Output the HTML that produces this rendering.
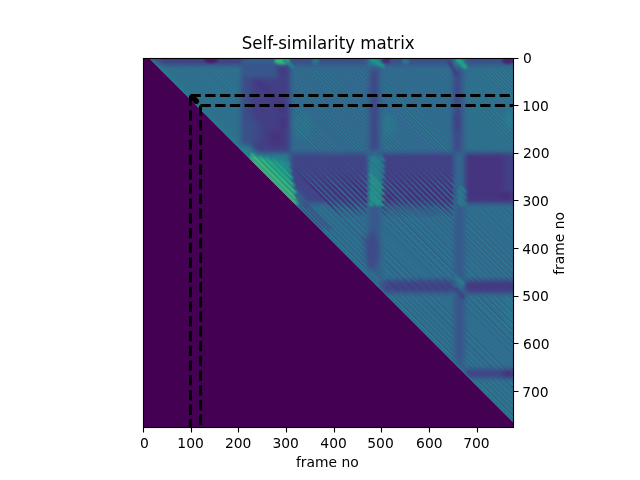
<!DOCTYPE html>
<html lang="en"><head><meta charset="utf-8"><title>Self-similarity matrix</title>
<style>
html,body{margin:0;padding:0;background:#fff;overflow:hidden}
svg{display:block}
text{font-family:"DejaVu Sans","Liberation Sans",sans-serif;fill:#000}
</style></head><body>
<svg width="640" height="480" viewBox="0 0 640 480">
<defs>
<clipPath id="ax"><rect x="143" y="58" width="371" height="370"/></clipPath>
<linearGradient id="sg" gradientUnits="userSpaceOnUse" x1="0" y1="156" x2="0" y2="218"><stop offset="0" stop-color="#fff" stop-opacity="0"/><stop offset=".25" stop-color="#fff" stop-opacity=".15"/><stop offset=".5" stop-color="#fff" stop-opacity="1"/><stop offset=".8" stop-color="#fff" stop-opacity="1"/><stop offset="1" stop-color="#fff" stop-opacity="0"/></linearGradient>
<mask id="sf" maskUnits="userSpaceOnUse" x="280" y="150" width="190" height="75"><rect x="280" y="150" width="190" height="75" fill="url(#sg)"/></mask>
<clipPath id="bc"><rect x="189" y="94" width="20" height="20"/></clipPath>
<clipPath id="tri"><polygon points="148.84,58 514,58 514,423.16"/></clipPath>
<filter id="b" x="100" y="20" width="460" height="450" filterUnits="userSpaceOnUse" color-interpolation-filters="sRGB"><feGaussianBlur stdDeviation="2.4"/></filter>
<filter id="b2" x="100" y="20" width="460" height="450" filterUnits="userSpaceOnUse" color-interpolation-filters="sRGB"><feGaussianBlur stdDeviation="1.2"/></filter>
<filter id="b1" x="100" y="20" width="460" height="450" filterUnits="userSpaceOnUse" color-interpolation-filters="sRGB"><feGaussianBlur stdDeviation="0.6"/></filter>
</defs>
<rect width="640" height="480" fill="#fff"/>
<rect x="143" y="58" width="371" height="370" fill="#440154"/>
<g clip-path="url(#tri)">
<rect x="143" y="58" width="371" height="370" fill="#2e6b8e"/>
<g filter="url(#b)">
<rect x="120" y="40" width="122.3" height="25.3" fill="#424086"/>
<rect x="242" y="40" width="48.3" height="25.3" fill="#355f8d"/>
<rect x="290" y="40" width="78.3" height="25.3" fill="#3c4f8a"/>
<rect x="368" y="40" width="13.3" height="25.3" fill="#25848e"/>
<rect x="381" y="40" width="73.3" height="25.3" fill="#3c4f8a"/>
<rect x="454" y="40" width="11.3" height="25.3" fill="#25848e"/>
<rect x="465" y="40" width="75.3" height="25.3" fill="#3c4f8a"/>
<rect x="120" y="65" width="122.3" height="88.3" fill="#2e6f8e"/>
<rect x="242" y="65" width="48.3" height="88.3" fill="#423f85"/>
<rect x="290" y="65" width="78.3" height="88.3" fill="#31688e"/>
<rect x="368" y="65" width="13.3" height="88.3" fill="#355f8d"/>
<rect x="381" y="65" width="73.3" height="88.3" fill="#306a8e"/>
<rect x="454" y="65" width="11.3" height="88.3" fill="#355f8d"/>
<rect x="465" y="65" width="75.3" height="88.3" fill="#2e6f8e"/>
<rect x="120" y="153" width="122.3" height="50.3" fill="#25848e"/>
<rect x="242" y="153" width="48.3" height="50.3" fill="#287d8e"/>
<rect x="290" y="153" width="78.3" height="50.3" fill="#404588"/>
<rect x="368" y="153" width="13.3" height="50.3" fill="#2f6c8e"/>
<rect x="381" y="153" width="73.3" height="50.3" fill="#424186"/>
<rect x="454" y="153" width="11.3" height="50.3" fill="#31678e"/>
<rect x="465" y="153" width="75.3" height="50.3" fill="#463480"/>
<rect x="242" y="203" width="48.3" height="77.3" fill="#2e6f8e"/>
<rect x="290" y="203" width="78.3" height="77.3" fill="#2f6b8e"/>
<rect x="368" y="203" width="13.3" height="77.3" fill="#355f8d"/>
<rect x="381" y="203" width="73.3" height="77.3" fill="#2f6b8e"/>
<rect x="454" y="203" width="11.3" height="77.3" fill="#355f8d"/>
<rect x="465" y="203" width="75.3" height="77.3" fill="#2f6c8e"/>
<rect x="290" y="280" width="78.3" height="13.3" fill="#2e6f8e"/>
<rect x="368" y="280" width="13.3" height="13.3" fill="#31678e"/>
<rect x="381" y="280" width="73.3" height="13.3" fill="#3c4f8a"/>
<rect x="454" y="280" width="11.3" height="13.3" fill="#306a8e"/>
<rect x="465" y="280" width="75.3" height="13.3" fill="#443a83"/>
<rect x="368" y="293" width="13.3" height="76.3" fill="#2d718e"/>
<rect x="381" y="293" width="73.3" height="76.3" fill="#2f6c8e"/>
<rect x="454" y="293" width="11.3" height="76.3" fill="#365d8d"/>
<rect x="465" y="293" width="75.3" height="76.3" fill="#2f6c8e"/>
<rect x="381" y="369" width="73.3" height="9.3" fill="#2d718e"/>
<rect x="454" y="369" width="11.3" height="9.3" fill="#2f6c8e"/>
<rect x="465" y="369" width="75.3" height="9.3" fill="#414487"/>
<rect x="454" y="378" width="11.3" height="72.3" fill="#2b758e"/>
<rect x="465" y="378" width="75.3" height="72.3" fill="#2e6f8e"/>
<path d="M150 58L245 153" stroke="#297a8e" stroke-width="9" stroke-linecap="round" fill="none" stroke-opacity="0.60"/>
<rect x="370.5" y="70" width="7.5" height="80" fill="#414487" fill-opacity="0.90"/>
<rect x="453" y="70" width="8" height="82" fill="#3e4989"/>
<ellipse cx="457" cy="122" rx="3.5" ry="9" fill="#453781" fill-opacity="0.70"/>
<ellipse cx="372" cy="250" rx="7" ry="19" fill="#404688" fill-opacity="0.85"/>
<path d="M362 238L376 252" stroke="#3e4989" stroke-width="4" stroke-linecap="round" fill="none" stroke-opacity="0.50"/>
<rect x="371" y="204" width="7" height="28" fill="#3b528b" fill-opacity="0.80"/>
<rect x="455" y="204" width="8" height="76" fill="#38588c" fill-opacity="0.80"/>
<rect x="455" y="295" width="9" height="63" fill="#3b528b" fill-opacity="0.80"/>
<rect x="243" y="66" width="35" height="12" fill="#355f8d" fill-opacity="0.80"/>
<ellipse cx="252" cy="132" rx="8" ry="14" fill="#3a548c" fill-opacity="0.60"/>
<rect x="240" y="80" width="12" height="70" fill="#38588c" fill-opacity="0.50"/>
<path d="M258 82L284 110" stroke="#463480" stroke-width="8" stroke-linecap="round" fill="none" stroke-opacity="0.70"/>
<ellipse cx="283" cy="123" rx="4" ry="6" fill="#472e7c" fill-opacity="0.70"/>
<ellipse cx="276" cy="138" rx="8" ry="9" fill="#472e7c" fill-opacity="0.60"/>
<ellipse cx="303" cy="126" rx="10" ry="14" fill="#2a788e" fill-opacity="0.50"/>
<ellipse cx="389" cy="126" rx="7" ry="12" fill="#287d8e" fill-opacity="0.50"/>
<ellipse cx="509" cy="120" rx="4" ry="9" fill="#25848e" fill-opacity="0.70"/>
<rect x="505" y="296" width="9" height="34" fill="#297a8e" fill-opacity="0.60"/>
<rect x="504" y="156" width="12" height="44" fill="#404688" fill-opacity="0.70"/>
<ellipse cx="507" cy="196" rx="5" ry="4" fill="#472a7a"/>
<ellipse cx="450" cy="196" rx="3" ry="8" fill="#443a83"/>
<ellipse cx="389" cy="198" rx="6" ry="4" fill="#463480"/>
<rect x="384" y="282" width="68" height="10" fill="#414487" fill-opacity="0.60"/>
<ellipse cx="508" cy="374" rx="5" ry="3.5" fill="#472a7a"/>
<ellipse cx="282" cy="71" rx="5" ry="3" fill="#463480"/>
<path d="M246 153L297 204" stroke="#25848e" stroke-width="16" stroke-linecap="round" fill="none" stroke-opacity="0.90"/>
</g>
<g filter="url(#b2)">
<path d="M388 280L398 290" stroke="#463480" stroke-width="2.2" stroke-linecap="round" fill="none" stroke-opacity="0.50"/>
<path d="M396 280L406 290" stroke="#463480" stroke-width="2.2" stroke-linecap="round" fill="none" stroke-opacity="0.50"/>
<path d="M404 280L414 290" stroke="#463480" stroke-width="2.2" stroke-linecap="round" fill="none" stroke-opacity="0.50"/>
<path d="M412 280L422 290" stroke="#463480" stroke-width="2.2" stroke-linecap="round" fill="none" stroke-opacity="0.50"/>
<path d="M420 280L430 290" stroke="#463480" stroke-width="2.2" stroke-linecap="round" fill="none" stroke-opacity="0.50"/>
<path d="M428 280L438 290" stroke="#463480" stroke-width="2.2" stroke-linecap="round" fill="none" stroke-opacity="0.50"/>
<path d="M436 280L446 290" stroke="#463480" stroke-width="2.2" stroke-linecap="round" fill="none" stroke-opacity="0.50"/>
<path d="M444 280L454 290" stroke="#463480" stroke-width="2.2" stroke-linecap="round" fill="none" stroke-opacity="0.50"/>
<path d="M456 277L463 284" stroke="#26828e" stroke-width="4" stroke-linecap="round" fill="none" stroke-opacity="0.80"/>
<path d="M456 289L463 297" stroke="#443a83" stroke-width="4" stroke-linecap="round" fill="none" stroke-opacity="0.80"/>
<path d="M370 272L378 280" stroke="#2a788e" stroke-width="4" stroke-linecap="round" fill="none" stroke-opacity="0.60"/>
<ellipse cx="211" cy="60" rx="7" ry="3" fill="#481a6c"/>
<ellipse cx="282" cy="61" rx="8" ry="3.5" fill="#32b67a"/>
<path d="M284 60L293 67" stroke="#25848e" stroke-width="3" stroke-linecap="round" fill="none"/>
<ellipse cx="315.5" cy="61" rx="3.5" ry="4" fill="#2c738e"/>
<ellipse cx="386" cy="60.5" rx="4" ry="3" fill="#472a7a"/>
<ellipse cx="405.5" cy="61" rx="3.5" ry="4" fill="#2c738e"/>
<ellipse cx="508" cy="60.5" rx="6" ry="3.5" fill="#482475"/>
<path d="M372 59.5L383 66" stroke="#1f958b" stroke-width="4" stroke-linecap="round" fill="none"/>
<path d="M458 59.5L465 67" stroke="#20a386" stroke-width="4.5" stroke-linecap="round" fill="none"/>
<path d="M449 62L456 74" stroke="#443a83" stroke-width="3" stroke-linecap="round" fill="none"/>
<path d="M249.6 158l47 47" stroke="#4ec36b" stroke-width="2.6" fill="none"/>
<path d="M251.2 154l46.3 46.3" stroke="#32b67a" stroke-width="2.6" fill="none"/>
<path d="M259.2 156.4l36.8 36.8" stroke="#2cb17e" stroke-width="2.6" fill="none"/>
<path d="M266 157.6l28.5 28.5" stroke="#22a884" stroke-width="2.6" fill="none"/>
<path d="M272.8 158.8l20.2 20.2" stroke="#1f9f88" stroke-width="2.6" fill="none"/>
<path d="M279.6 160l11.9 11.9" stroke="#1f958b" stroke-width="2.6" fill="none"/>
<path d="M286.4 161.2l3.6 3.6" stroke="#23898e" stroke-width="2.6" fill="none"/>
<path d="M300 206L322 228" stroke="#3e4989" stroke-width="4" stroke-linecap="round" fill="none" stroke-opacity="0.70"/>
<path d="M306 205L330 229" stroke="#414487" stroke-width="3" stroke-linecap="round" fill="none" stroke-opacity="0.70"/>
<path d="M296 196L306 206" stroke="#414487" stroke-width="4" stroke-linecap="round" fill="none" stroke-opacity="0.60"/>
<path d="M368.8 201.8l4.2 4.2" stroke="#20a386" stroke-width="2.6" fill="none" stroke-opacity="0.95"/>
<path d="M368.8 195.8l10.2 10.2" stroke="#20a386" stroke-width="2.6" fill="none" stroke-opacity="0.95"/>
<path d="M368.8 190.9l15.1 15.1" stroke="#20a386" stroke-width="2.6" fill="none" stroke-opacity="0.95"/>
<path d="M368.8 185.1l16 16" stroke="#20a386" stroke-width="2.6" fill="none" stroke-opacity="0.95"/>
<path d="M368.8 179l16 16" stroke="#20a386" stroke-width="2.6" fill="none" stroke-opacity="0.95"/>
<path d="M368.8 173.3l16 16" stroke="#20a386" stroke-width="2.6" fill="none" stroke-opacity="0.95"/>
<path d="M368.8 167.6l16 16" stroke="#24868e" stroke-width="2.6" fill="none" stroke-opacity="0.95"/>
<path d="M368.8 162.5l16 16" stroke="#24868e" stroke-width="2.6" fill="none" stroke-opacity="0.95"/>
<path d="M368.8 156.6l16 16" stroke="#24868e" stroke-width="2.6" fill="none" stroke-opacity="0.95"/>
<path d="M373.3 156l11.5 11.5" stroke="#24868e" stroke-width="2.6" fill="none" stroke-opacity="0.95"/>
<path d="M379.4 156l5.4 5.4" stroke="#24868e" stroke-width="2.6" fill="none" stroke-opacity="0.95"/>
<path d="M457.8 200.9l5.1 5.1" stroke="#1f958b" stroke-width="2" fill="none" stroke-opacity="0.80"/>
<path d="M457.8 195.6l9 9" stroke="#1f958b" stroke-width="2" fill="none" stroke-opacity="0.80"/>
<path d="M457.8 189.9l9 9" stroke="#1f958b" stroke-width="2" fill="none" stroke-opacity="0.80"/>
<path d="M460 186l6.8 6.8" stroke="#1f958b" stroke-width="2" fill="none" stroke-opacity="0.80"/>
</g>
<g filter="url(#b1)">
<path d="M252.6 161l42 42" stroke="#69cd5b" stroke-width="1.2" fill="none" stroke-opacity="0.90"/>
<path d="M254.2 157l41.3 41.3" stroke="#48c16e" stroke-width="1.2" fill="none" stroke-opacity="0.90"/>
<path d="M262.2 159.4l31.8 31.8" stroke="#3fbc73" stroke-width="1.2" fill="none" stroke-opacity="0.90"/>
<path d="M269 160.6l23.5 23.5" stroke="#2fb47c" stroke-width="1.2" fill="none" stroke-opacity="0.90"/>
<path d="M275.8 161.8l15.2 15.2" stroke="#25ab82" stroke-width="1.2" fill="none" stroke-opacity="0.90"/>
</g>
<g mask="url(#sf)"><g filter="url(#b1)">
<path d="M294 168.5l49.5 49.5" stroke="#482878" stroke-width="2" fill="none" stroke-opacity="0.79"/>
<path d="M296.8 168.5l49.5 49.5" stroke="#2c738e" stroke-width="1.5" fill="none" stroke-opacity="0.73"/>
<path d="M294 163.4l54.6 54.6" stroke="#482878" stroke-width="2" fill="none" stroke-opacity="0.57"/>
<path d="M296.8 163.4l54.6 54.6" stroke="#2c738e" stroke-width="1.5" fill="none" stroke-opacity="0.68"/>
<path d="M294 157.7l60.3 60.3" stroke="#482878" stroke-width="2" fill="none" stroke-opacity="0.56"/>
<path d="M296.8 157.7l60.3 60.3" stroke="#2c738e" stroke-width="1.5" fill="none" stroke-opacity="0.57"/>
<path d="M298.5 156l62 62" stroke="#482878" stroke-width="2" fill="none" stroke-opacity="0.75"/>
<path d="M301.3 156l62 62" stroke="#2c738e" stroke-width="1.5" fill="none" stroke-opacity="0.63"/>
<path d="M303.5 156l62 62" stroke="#482878" stroke-width="2" fill="none" stroke-opacity="0.84"/>
<path d="M306.3 156l62 62" stroke="#2c738e" stroke-width="1.5" fill="none" stroke-opacity="0.86"/>
<path d="M309.5 156l57.5 57.5" stroke="#482878" stroke-width="2" fill="none" stroke-opacity="0.67"/>
<path d="M312.3 156l57.5 57.5" stroke="#2c738e" stroke-width="1.5" fill="none" stroke-opacity="0.72"/>
<path d="M315 156l52 52" stroke="#482878" stroke-width="2" fill="none" stroke-opacity="0.57"/>
<path d="M317.8 156l52 52" stroke="#2c738e" stroke-width="1.5" fill="none" stroke-opacity="0.74"/>
<path d="M320.2 156l46.8 46.8" stroke="#482878" stroke-width="2" fill="none" stroke-opacity="0.81"/>
<path d="M323 156l46.8 46.8" stroke="#2c738e" stroke-width="1.5" fill="none" stroke-opacity="0.57"/>
<path d="M326.2 156l40.8 40.8" stroke="#482878" stroke-width="2" fill="none" stroke-opacity="0.81"/>
<path d="M329 156l40.8 40.8" stroke="#2c738e" stroke-width="1.5" fill="none" stroke-opacity="0.63"/>
<path d="M382 211.8l6.2 6.2" stroke="#482878" stroke-width="2" fill="none" stroke-opacity="0.82"/>
<path d="M384.8 211.8l6.2 6.2" stroke="#2e6f8e" stroke-width="1.5" fill="none" stroke-opacity="0.86"/>
<path d="M331.1 156l35.9 35.9" stroke="#482878" stroke-width="2" fill="none" stroke-opacity="0.76"/>
<path d="M333.9 156l35.9 35.9" stroke="#2c738e" stroke-width="1.5" fill="none" stroke-opacity="0.55"/>
<path d="M382 206.9l11.1 11.1" stroke="#482878" stroke-width="2" fill="none" stroke-opacity="0.70"/>
<path d="M384.8 206.9l11.1 11.1" stroke="#2e6f8e" stroke-width="1.5" fill="none" stroke-opacity="0.70"/>
<path d="M336.9 156l30.1 30.1" stroke="#482878" stroke-width="2" fill="none" stroke-opacity="0.65"/>
<path d="M339.7 156l30.1 30.1" stroke="#2c738e" stroke-width="1.5" fill="none" stroke-opacity="0.83"/>
<path d="M382 201.1l16.9 16.9" stroke="#482878" stroke-width="2" fill="none" stroke-opacity="0.64"/>
<path d="M384.8 201.1l16.9 16.9" stroke="#2e6f8e" stroke-width="1.5" fill="none" stroke-opacity="0.60"/>
<path d="M343 156l24 24" stroke="#482878" stroke-width="2" fill="none" stroke-opacity="0.68"/>
<path d="M345.8 156l24 24" stroke="#2c738e" stroke-width="1.5" fill="none" stroke-opacity="0.83"/>
<path d="M382 195l23 23" stroke="#482878" stroke-width="2" fill="none" stroke-opacity="0.62"/>
<path d="M384.8 195l23 23" stroke="#2e6f8e" stroke-width="1.5" fill="none" stroke-opacity="0.66"/>
<path d="M348.7 156l18.3 18.3" stroke="#482878" stroke-width="2" fill="none" stroke-opacity="0.70"/>
<path d="M351.5 156l18.3 18.3" stroke="#2c738e" stroke-width="1.5" fill="none" stroke-opacity="0.73"/>
<path d="M382 189.3l28.7 28.7" stroke="#482878" stroke-width="2" fill="none" stroke-opacity="0.62"/>
<path d="M384.8 189.3l28.7 28.7" stroke="#2e6f8e" stroke-width="1.5" fill="none" stroke-opacity="0.56"/>
<path d="M354.4 156l12.6 12.6" stroke="#482878" stroke-width="2" fill="none" stroke-opacity="0.58"/>
<path d="M357.2 156l12.6 12.6" stroke="#2c738e" stroke-width="1.5" fill="none" stroke-opacity="0.85"/>
<path d="M382 183.6l34.4 34.4" stroke="#482878" stroke-width="2" fill="none" stroke-opacity="0.66"/>
<path d="M384.8 183.6l34.4 34.4" stroke="#2e6f8e" stroke-width="1.5" fill="none" stroke-opacity="0.88"/>
<path d="M359.5 156l7.5 7.5" stroke="#482878" stroke-width="2" fill="none" stroke-opacity="0.83"/>
<path d="M362.3 156l7.5 7.5" stroke="#2c738e" stroke-width="1.5" fill="none" stroke-opacity="0.74"/>
<path d="M382 178.5l39.5 39.5" stroke="#482878" stroke-width="2" fill="none" stroke-opacity="0.62"/>
<path d="M384.8 178.5l39.5 39.5" stroke="#2e6f8e" stroke-width="1.5" fill="none" stroke-opacity="0.81"/>
<path d="M382 172.6l45.4 45.4" stroke="#482878" stroke-width="2" fill="none" stroke-opacity="0.76"/>
<path d="M384.8 172.6l45.4 45.4" stroke="#2e6f8e" stroke-width="1.5" fill="none" stroke-opacity="0.71"/>
<path d="M382 167.5l50.5 50.5" stroke="#482878" stroke-width="2" fill="none" stroke-opacity="0.74"/>
<path d="M384.8 167.5l50.5 50.5" stroke="#2e6f8e" stroke-width="1.5" fill="none" stroke-opacity="0.59"/>
<path d="M382 161.4l56.6 56.6" stroke="#482878" stroke-width="2" fill="none" stroke-opacity="0.74"/>
<path d="M384.8 161.4l56.6 56.6" stroke="#2e6f8e" stroke-width="1.5" fill="none" stroke-opacity="0.68"/>
<path d="M382.3 156l62 62" stroke="#482878" stroke-width="2" fill="none" stroke-opacity="0.61"/>
<path d="M385.1 156l62 62" stroke="#2e6f8e" stroke-width="1.5" fill="none" stroke-opacity="0.69"/>
<path d="M387.9 156l62 62" stroke="#482878" stroke-width="2" fill="none" stroke-opacity="0.66"/>
<path d="M390.7 156l62 62" stroke="#2e6f8e" stroke-width="1.5" fill="none" stroke-opacity="0.80"/>
<path d="M393.3 156l59.7 59.7" stroke="#482878" stroke-width="2" fill="none" stroke-opacity="0.83"/>
<path d="M396.1 156l59.7 59.7" stroke="#2e6f8e" stroke-width="1.5" fill="none" stroke-opacity="0.90"/>
<path d="M399 156l54 54" stroke="#482878" stroke-width="2" fill="none" stroke-opacity="0.79"/>
<path d="M401.8 156l54 54" stroke="#2e6f8e" stroke-width="1.5" fill="none" stroke-opacity="0.60"/>
<path d="M404.6 156l48.4 48.4" stroke="#482878" stroke-width="2" fill="none" stroke-opacity="0.80"/>
<path d="M407.4 156l48.4 48.4" stroke="#2e6f8e" stroke-width="1.5" fill="none" stroke-opacity="0.69"/>
<path d="M410.1 156l42.9 42.9" stroke="#482878" stroke-width="2" fill="none" stroke-opacity="0.69"/>
<path d="M412.9 156l42.9 42.9" stroke="#2e6f8e" stroke-width="1.5" fill="none" stroke-opacity="0.89"/>
<path d="M415.4 156l37.6 37.6" stroke="#482878" stroke-width="2" fill="none" stroke-opacity="0.67"/>
<path d="M418.2 156l37.6 37.6" stroke="#2e6f8e" stroke-width="1.5" fill="none" stroke-opacity="0.55"/>
<path d="M421.1 156l31.9 31.9" stroke="#482878" stroke-width="2" fill="none" stroke-opacity="0.74"/>
<path d="M423.9 156l31.9 31.9" stroke="#2e6f8e" stroke-width="1.5" fill="none" stroke-opacity="0.88"/>
<path d="M427.2 156l25.8 25.8" stroke="#482878" stroke-width="2" fill="none" stroke-opacity="0.65"/>
<path d="M430 156l25.8 25.8" stroke="#2e6f8e" stroke-width="1.5" fill="none" stroke-opacity="0.90"/>
<path d="M432.1 156l20.9 20.9" stroke="#482878" stroke-width="2" fill="none" stroke-opacity="0.80"/>
<path d="M434.9 156l20.9 20.9" stroke="#2e6f8e" stroke-width="1.5" fill="none" stroke-opacity="0.61"/>
<path d="M437.9 156l15.1 15.1" stroke="#482878" stroke-width="2" fill="none" stroke-opacity="0.57"/>
<path d="M440.7 156l15.1 15.1" stroke="#2e6f8e" stroke-width="1.5" fill="none" stroke-opacity="0.85"/>
<path d="M443.9 156l9.1 9.1" stroke="#482878" stroke-width="2" fill="none" stroke-opacity="0.59"/>
<path d="M446.7 156l9.1 9.1" stroke="#2e6f8e" stroke-width="1.5" fill="none" stroke-opacity="0.73"/>
<path d="M449 156l4 4" stroke="#482878" stroke-width="2" fill="none" stroke-opacity="0.70"/>
<path d="M451.8 156l4 4" stroke="#2e6f8e" stroke-width="1.5" fill="none" stroke-opacity="0.74"/>
</g></g>
<mask id="up" maskUnits="userSpaceOnUse" x="140" y="55" width="380" height="380"><rect x="140" y="55" width="380" height="380" fill="#000"/><g filter="url(#b)" fill="#fff" fill-opacity="1.00"><rect x="143" y="67" width="96" height="86"/><rect x="292" y="67" width="77" height="87"/><rect x="380" y="67" width="72" height="87"/><rect x="463" y="67" width="57" height="87"/></g></mask><g mask="url(#up)"><g stroke="#1f9e89" stroke-width="0.8" fill="none"><path d="M147 56l374 374" stroke-opacity="0.15"/><path d="M150 56l374 374" stroke-opacity="0.10"/><path d="M151 56l374 374" stroke-opacity="0.21"/><path d="M154 56l374 374" stroke-opacity="0.16"/><path d="M157 56l374 374" stroke-opacity="0.08"/><path d="M158 56l374 374" stroke-opacity="0.20"/><path d="M161 56l374 374" stroke-opacity="0.19"/><path d="M162 56l374 374" stroke-opacity="0.23"/><path d="M165 56l374 374" stroke-opacity="0.16"/><path d="M169 56l374 374" stroke-opacity="0.22"/><path d="M172 56l374 374" stroke-opacity="0.09"/><path d="M173 56l374 374" stroke-opacity="0.10"/><path d="M176 56l374 374" stroke-opacity="0.15"/><path d="M179 56l374 374" stroke-opacity="0.09"/><path d="M180 56l374 374" stroke-opacity="0.16"/><path d="M183 56l374 374" stroke-opacity="0.12"/><path d="M186 56l374 374" stroke-opacity="0.12"/><path d="M187 56l374 374" stroke-opacity="0.11"/><path d="M190 56l374 374" stroke-opacity="0.16"/><path d="M194 56l374 374" stroke-opacity="0.13"/><path d="M197 56l374 374" stroke-opacity="0.09"/><path d="M198 56l374 374" stroke-opacity="0.27"/><path d="M201 56l374 374" stroke-opacity="0.12"/><path d="M202 56l374 374" stroke-opacity="0.33"/><path d="M205 56l374 374" stroke-opacity="0.14"/><path d="M206 56l374 374" stroke-opacity="0.08"/><path d="M209 56l374 374" stroke-opacity="0.18"/><path d="M213 56l374 374" stroke-opacity="0.20"/><path d="M217 56l374 374" stroke-opacity="0.17"/><path d="M220 56l374 374" stroke-opacity="0.21"/><path d="M224 56l374 374" stroke-opacity="0.40"/><path d="M227 56l374 374" stroke-opacity="0.16"/><path d="M228 56l374 374" stroke-opacity="0.20"/><path d="M231 56l374 374" stroke-opacity="0.38"/><path d="M234 56l374 374" stroke-opacity="0.24"/><path d="M235 56l374 374" stroke-opacity="0.41"/><path d="M238 56l374 374" stroke-opacity="0.28"/><path d="M241 56l374 374" stroke-opacity="0.15"/><path d="M242 56l374 374" stroke-opacity="0.34"/><path d="M245 56l374 374" stroke-opacity="0.39"/><path d="M246 56l374 374" stroke-opacity="0.25"/><path d="M249 56l374 374" stroke-opacity="0.26"/><path d="M252 56l374 374" stroke-opacity="0.15"/><path d="M253 56l374 374" stroke-opacity="0.12"/><path d="M256 56l374 374" stroke-opacity="0.15"/><path d="M257 56l374 374" stroke-opacity="0.12"/><path d="M260 56l374 374" stroke-opacity="0.18"/><path d="M261 56l374 374" stroke-opacity="0.08"/><path d="M264 56l374 374" stroke-opacity="0.37"/><path d="M267 56l374 374" stroke-opacity="0.23"/><path d="M268 56l374 374" stroke-opacity="0.43"/><path d="M271 56l374 374" stroke-opacity="0.25"/><path d="M272 56l374 374" stroke-opacity="0.17"/><path d="M275 56l374 374" stroke-opacity="0.38"/><path d="M278 56l374 374" stroke-opacity="0.12"/><path d="M279 56l374 374" stroke-opacity="0.41"/><path d="M282 56l374 374" stroke-opacity="0.15"/><path d="M283 56l374 374" stroke-opacity="0.09"/><path d="M286 56l374 374" stroke-opacity="0.22"/><path d="M289 56l374 374" stroke-opacity="0.18"/><path d="M290 56l374 374" stroke-opacity="0.24"/><path d="M293 56l374 374" stroke-opacity="0.28"/><path d="M296 56l374 374" stroke-opacity="0.23"/><path d="M297 56l374 374" stroke-opacity="0.42"/><path d="M300 56l374 374" stroke-opacity="0.29"/><path d="M301 56l374 374" stroke-opacity="0.29"/><path d="M304 56l374 374" stroke-opacity="0.29"/><path d="M307 56l374 374" stroke-opacity="0.12"/><path d="M308 56l374 374" stroke-opacity="0.35"/><path d="M311 56l374 374" stroke-opacity="0.21"/><path d="M312 56l374 374" stroke-opacity="0.26"/><path d="M315 56l374 374" stroke-opacity="0.11"/><path d="M319 56l374 374" stroke-opacity="0.15"/><path d="M322 56l374 374" stroke-opacity="0.14"/><path d="M323 56l374 374" stroke-opacity="0.11"/><path d="M326 56l374 374" stroke-opacity="0.12"/><path d="M329 56l374 374" stroke-opacity="0.16"/><path d="M330 56l374 374" stroke-opacity="0.09"/><path d="M333 56l374 374" stroke-opacity="0.17"/><path d="M337 56l374 374" stroke-opacity="0.26"/><path d="M341 56l374 374" stroke-opacity="0.49"/><path d="M345 56l374 374" stroke-opacity="0.37"/><path d="M348 56l374 374" stroke-opacity="0.26"/><path d="M349 56l374 374" stroke-opacity="0.13"/><path d="M352 56l374 374" stroke-opacity="0.49"/><path d="M356 56l374 374" stroke-opacity="0.40"/><path d="M359 56l374 374" stroke-opacity="0.21"/><path d="M360 56l374 374" stroke-opacity="0.18"/><path d="M363 56l374 374" stroke-opacity="0.36"/><path d="M364 56l374 374" stroke-opacity="0.17"/><path d="M367 56l374 374" stroke-opacity="0.22"/><path d="M368 56l374 374" stroke-opacity="0.11"/><path d="M371 56l374 374" stroke-opacity="0.17"/><path d="M374 56l374 374" stroke-opacity="0.23"/><path d="M375 56l374 374" stroke-opacity="0.14"/><path d="M378 56l374 374" stroke-opacity="0.12"/><path d="M381 56l374 374" stroke-opacity="0.18"/><path d="M385 56l374 374" stroke-opacity="0.11"/><path d="M388 56l374 374" stroke-opacity="0.14"/><path d="M391 56l374 374" stroke-opacity="0.14"/><path d="M392 56l374 374" stroke-opacity="0.13"/><path d="M395 56l374 374" stroke-opacity="0.13"/><path d="M399 56l374 374" stroke-opacity="0.18"/><path d="M402 56l374 374" stroke-opacity="0.16"/><path d="M403 56l374 374" stroke-opacity="0.23"/><path d="M406 56l374 374" stroke-opacity="0.19"/><path d="M407 56l374 374" stroke-opacity="0.14"/><path d="M410 56l374 374" stroke-opacity="0.12"/><path d="M413 56l374 374" stroke-opacity="0.10"/><path d="M414 56l374 374" stroke-opacity="0.12"/><path d="M417 56l374 374" stroke-opacity="0.16"/><path d="M418 56l374 374" stroke-opacity="0.08"/><path d="M421 56l374 374" stroke-opacity="0.19"/><path d="M424 56l374 374" stroke-opacity="0.27"/><path d="M425 56l374 374" stroke-opacity="0.31"/><path d="M428 56l374 374" stroke-opacity="0.34"/><path d="M429 56l374 374" stroke-opacity="0.30"/><path d="M432 56l374 374" stroke-opacity="0.28"/><path d="M435 56l374 374" stroke-opacity="0.08"/><path d="M436 56l374 374" stroke-opacity="0.34"/><path d="M439 56l374 374" stroke-opacity="0.13"/><path d="M440 56l374 374" stroke-opacity="0.26"/><path d="M443 56l374 374" stroke-opacity="0.14"/><path d="M447 56l374 374" stroke-opacity="0.28"/><path d="M451 56l374 374" stroke-opacity="0.25"/><path d="M455 56l374 374" stroke-opacity="0.13"/><path d="M458 56l374 374" stroke-opacity="0.24"/><path d="M462 56l374 374" stroke-opacity="0.27"/><path d="M465 56l374 374" stroke-opacity="0.21"/><path d="M468 56l374 374" stroke-opacity="0.16"/><path d="M469 56l374 374" stroke-opacity="0.43"/><path d="M472 56l374 374" stroke-opacity="0.35"/><path d="M475 56l374 374" stroke-opacity="0.23"/><path d="M476 56l374 374" stroke-opacity="0.17"/><path d="M479 56l374 374" stroke-opacity="0.50"/><path d="M483 56l374 374" stroke-opacity="0.41"/><path d="M486 56l374 374" stroke-opacity="0.19"/><path d="M487 56l374 374" stroke-opacity="0.16"/><path d="M490 56l374 374" stroke-opacity="0.40"/><path d="M493 56l374 374" stroke-opacity="0.12"/><path d="M494 56l374 374" stroke-opacity="0.19"/><path d="M497 56l374 374" stroke-opacity="0.27"/><path d="M500 56l374 374" stroke-opacity="0.26"/><path d="M501 56l374 374" stroke-opacity="0.14"/><path d="M504 56l374 374" stroke-opacity="0.14"/><path d="M507 56l374 374" stroke-opacity="0.18"/><path d="M511 56l374 374" stroke-opacity="0.18"/><path d="M515 56l374 374" stroke-opacity="0.14"/></g><g stroke="#443983" stroke-width="0.8" fill="none"><path d="M149 56l374 374" stroke-opacity="0.10"/><path d="M152 56l374 374" stroke-opacity="0.07"/><path d="M153 56l374 374" stroke-opacity="0.07"/><path d="M156 56l374 374" stroke-opacity="0.09"/><path d="M159 56l374 374" stroke-opacity="0.08"/><path d="M160 56l374 374" stroke-opacity="0.11"/><path d="M163 56l374 374" stroke-opacity="0.09"/><path d="M164 56l374 374" stroke-opacity="0.09"/><path d="M167 56l374 374" stroke-opacity="0.09"/><path d="M171 56l374 374" stroke-opacity="0.09"/><path d="M178 56l374 374" stroke-opacity="0.09"/><path d="M188 56l374 374" stroke-opacity="0.09"/><path d="M192 56l374 374" stroke-opacity="0.07"/><path d="M196 56l374 374" stroke-opacity="0.09"/><path d="M200 56l374 374" stroke-opacity="0.17"/><path d="M203 56l374 374" stroke-opacity="0.06"/><path d="M204 56l374 374" stroke-opacity="0.11"/><path d="M207 56l374 374" stroke-opacity="0.08"/><path d="M211 56l374 374" stroke-opacity="0.10"/><path d="M215 56l374 374" stroke-opacity="0.10"/><path d="M222 56l374 374" stroke-opacity="0.16"/><path d="M226 56l374 374" stroke-opacity="0.18"/><path d="M229 56l374 374" stroke-opacity="0.13"/><path d="M232 56l374 374" stroke-opacity="0.08"/><path d="M233 56l374 374" stroke-opacity="0.22"/><path d="M236 56l374 374" stroke-opacity="0.13"/><path d="M237 56l374 374" stroke-opacity="0.14"/><path d="M240 56l374 374" stroke-opacity="0.15"/><path d="M243 56l374 374" stroke-opacity="0.16"/><path d="M244 56l374 374" stroke-opacity="0.17"/><path d="M247 56l374 374" stroke-opacity="0.18"/><path d="M250 56l374 374" stroke-opacity="0.06"/><path d="M251 56l374 374" stroke-opacity="0.08"/><path d="M254 56l374 374" stroke-opacity="0.08"/><path d="M255 56l374 374" stroke-opacity="0.06"/><path d="M258 56l374 374" stroke-opacity="0.07"/><path d="M262 56l374 374" stroke-opacity="0.13"/><path d="M265 56l374 374" stroke-opacity="0.08"/><path d="M266 56l374 374" stroke-opacity="0.22"/><path d="M269 56l374 374" stroke-opacity="0.12"/><path d="M270 56l374 374" stroke-opacity="0.17"/><path d="M273 56l374 374" stroke-opacity="0.14"/><path d="M277 56l374 374" stroke-opacity="0.23"/><path d="M280 56l374 374" stroke-opacity="0.06"/><path d="M281 56l374 374" stroke-opacity="0.13"/><path d="M284 56l374 374" stroke-opacity="0.09"/><path d="M287 56l374 374" stroke-opacity="0.07"/><path d="M288 56l374 374" stroke-opacity="0.13"/><path d="M291 56l374 374" stroke-opacity="0.10"/><path d="M295 56l374 374" stroke-opacity="0.19"/><path d="M298 56l374 374" stroke-opacity="0.14"/><path d="M299 56l374 374" stroke-opacity="0.19"/><path d="M302 56l374 374" stroke-opacity="0.14"/><path d="M303 56l374 374" stroke-opacity="0.08"/><path d="M306 56l374 374" stroke-opacity="0.16"/><path d="M309 56l374 374" stroke-opacity="0.11"/><path d="M310 56l374 374" stroke-opacity="0.16"/><path d="M313 56l374 374" stroke-opacity="0.08"/><path d="M314 56l374 374" stroke-opacity="0.07"/><path d="M321 56l374 374" stroke-opacity="0.08"/><path d="M324 56l374 374" stroke-opacity="0.07"/><path d="M331 56l374 374" stroke-opacity="0.09"/><path d="M335 56l374 374" stroke-opacity="0.10"/><path d="M339 56l374 374" stroke-opacity="0.20"/><path d="M343 56l374 374" stroke-opacity="0.24"/><path d="M347 56l374 374" stroke-opacity="0.12"/><path d="M350 56l374 374" stroke-opacity="0.20"/><path d="M354 56l374 374" stroke-opacity="0.24"/><path d="M358 56l374 374" stroke-opacity="0.14"/><path d="M361 56l374 374" stroke-opacity="0.16"/><path d="M362 56l374 374" stroke-opacity="0.08"/><path d="M365 56l374 374" stroke-opacity="0.15"/><path d="M366 56l374 374" stroke-opacity="0.08"/><path d="M369 56l374 374" stroke-opacity="0.08"/><path d="M372 56l374 374" stroke-opacity="0.08"/><path d="M373 56l374 374" stroke-opacity="0.09"/><path d="M376 56l374 374" stroke-opacity="0.10"/><path d="M383 56l374 374" stroke-opacity="0.10"/><path d="M390 56l374 374" stroke-opacity="0.07"/><path d="M393 56l374 374" stroke-opacity="0.07"/><path d="M397 56l374 374" stroke-opacity="0.07"/><path d="M401 56l374 374" stroke-opacity="0.11"/><path d="M404 56l374 374" stroke-opacity="0.10"/><path d="M405 56l374 374" stroke-opacity="0.10"/><path d="M408 56l374 374" stroke-opacity="0.07"/><path d="M415 56l374 374" stroke-opacity="0.08"/><path d="M419 56l374 374" stroke-opacity="0.08"/><path d="M422 56l374 374" stroke-opacity="0.07"/><path d="M423 56l374 374" stroke-opacity="0.12"/><path d="M426 56l374 374" stroke-opacity="0.18"/><path d="M427 56l374 374" stroke-opacity="0.17"/><path d="M430 56l374 374" stroke-opacity="0.15"/><path d="M431 56l374 374" stroke-opacity="0.10"/><path d="M434 56l374 374" stroke-opacity="0.15"/><path d="M437 56l374 374" stroke-opacity="0.07"/><path d="M438 56l374 374" stroke-opacity="0.17"/><path d="M442 56l374 374" stroke-opacity="0.08"/><path d="M445 56l374 374" stroke-opacity="0.11"/><path d="M449 56l374 374" stroke-opacity="0.15"/><path d="M453 56l374 374" stroke-opacity="0.09"/><path d="M456 56l374 374" stroke-opacity="0.07"/><path d="M460 56l374 374" stroke-opacity="0.14"/><path d="M464 56l374 374" stroke-opacity="0.10"/><path d="M467 56l374 374" stroke-opacity="0.20"/><path d="M470 56l374 374" stroke-opacity="0.15"/><path d="M471 56l374 374" stroke-opacity="0.15"/><path d="M474 56l374 374" stroke-opacity="0.14"/><path d="M477 56l374 374" stroke-opacity="0.21"/><path d="M481 56l374 374" stroke-opacity="0.24"/><path d="M485 56l374 374" stroke-opacity="0.15"/><path d="M488 56l374 374" stroke-opacity="0.17"/><path d="M492 56l374 374" stroke-opacity="0.18"/><path d="M495 56l374 374" stroke-opacity="0.11"/><path d="M498 56l374 374" stroke-opacity="0.09"/><path d="M499 56l374 374" stroke-opacity="0.12"/><path d="M502 56l374 374" stroke-opacity="0.11"/><path d="M509 56l374 374" stroke-opacity="0.10"/><path d="M513 56l374 374" stroke-opacity="0.08"/><path d="M517 56l374 374" stroke-opacity="0.07"/></g></g>
<mask id="low" maskUnits="userSpaceOnUse" x="140" y="55" width="380" height="380"><rect x="140" y="55" width="380" height="380" fill="#000"/><g filter="url(#b)" fill="#fff" fill-opacity="1.00"><rect x="288" y="205" width="78" height="76"/><rect x="383" y="205" width="71" height="76"/><rect x="465" y="205" width="55" height="76"/><rect x="375" y="295" width="79" height="74"/><rect x="465" y="295" width="55" height="74"/><rect x="460" y="380" width="60" height="55"/></g></mask><g mask="url(#low)"><g stroke="#1f9e89" stroke-width="0.75" fill="none"><path d="M147 56l374 374" stroke-opacity="0.16"/><path d="M151 56l374 374" stroke-opacity="0.51"/><path d="M152 56l374 374" stroke-opacity="0.35"/><path d="M155 56l374 374" stroke-opacity="0.15"/><path d="M156 56l374 374" stroke-opacity="0.34"/><path d="M162 56l374 374" stroke-opacity="0.48"/><path d="M163 56l374 374" stroke-opacity="0.14"/><path d="M166 56l374 374" stroke-opacity="0.44"/><path d="M167 56l374 374" stroke-opacity="0.21"/><path d="M172 56l374 374" stroke-opacity="0.23"/><path d="M173 56l374 374" stroke-opacity="0.45"/><path d="M177 56l374 374" stroke-opacity="0.38"/><path d="M183 56l374 374" stroke-opacity="0.40"/><path d="M184 56l374 374" stroke-opacity="0.41"/><path d="M190 56l374 374" stroke-opacity="0.42"/><path d="M191 56l374 374" stroke-opacity="0.24"/><path d="M195 56l374 374" stroke-opacity="0.39"/><path d="M202 56l374 374" stroke-opacity="0.21"/><path d="M206 56l374 374" stroke-opacity="0.15"/><path d="M207 56l374 374" stroke-opacity="0.20"/><path d="M217 56l374 374" stroke-opacity="0.29"/><path d="M218 56l374 374" stroke-opacity="0.24"/><path d="M224 56l374 374" stroke-opacity="0.30"/><path d="M225 56l374 374" stroke-opacity="0.30"/><path d="M229 56l374 374" stroke-opacity="0.50"/><path d="M230 56l374 374" stroke-opacity="0.24"/><path d="M236 56l374 374" stroke-opacity="0.57"/><path d="M237 56l374 374" stroke-opacity="0.28"/><path d="M243 56l374 374" stroke-opacity="0.40"/><path d="M244 56l374 374" stroke-opacity="0.20"/><path d="M247 56l374 374" stroke-opacity="0.29"/><path d="M248 56l374 374" stroke-opacity="0.44"/><path d="M254 56l374 374" stroke-opacity="0.35"/><path d="M255 56l374 374" stroke-opacity="0.39"/><path d="M259 56l374 374" stroke-opacity="0.32"/><path d="M265 56l374 374" stroke-opacity="0.20"/><path d="M266 56l374 374" stroke-opacity="0.28"/><path d="M270 56l374 374" stroke-opacity="0.17"/><path d="M276 56l374 374" stroke-opacity="0.51"/><path d="M282 56l374 374" stroke-opacity="0.22"/><path d="M283 56l374 374" stroke-opacity="0.19"/><path d="M286 56l374 374" stroke-opacity="0.39"/><path d="M287 56l374 374" stroke-opacity="0.49"/><path d="M291 56l374 374" stroke-opacity="0.22"/><path d="M297 56l374 374" stroke-opacity="0.25"/><path d="M298 56l374 374" stroke-opacity="0.47"/><path d="M302 56l374 374" stroke-opacity="0.20"/><path d="M305 56l374 374" stroke-opacity="0.21"/><path d="M309 56l374 374" stroke-opacity="0.45"/><path d="M316 56l374 374" stroke-opacity="0.19"/><path d="M320 56l374 374" stroke-opacity="0.20"/><path d="M327 56l374 374" stroke-opacity="0.27"/><path d="M328 56l374 374" stroke-opacity="0.15"/><path d="M332 56l374 374" stroke-opacity="0.32"/><path d="M339 56l374 374" stroke-opacity="0.19"/><path d="M343 56l374 374" stroke-opacity="0.22"/><path d="M344 56l374 374" stroke-opacity="0.15"/><path d="M350 56l374 374" stroke-opacity="0.26"/><path d="M351 56l374 374" stroke-opacity="0.19"/><path d="M355 56l374 374" stroke-opacity="0.37"/><path d="M361 56l374 374" stroke-opacity="0.23"/><path d="M362 56l374 374" stroke-opacity="0.29"/><path d="M368 56l374 374" stroke-opacity="0.21"/><path d="M372 56l374 374" stroke-opacity="0.14"/><path d="M373 56l374 374" stroke-opacity="0.17"/><path d="M379 56l374 374" stroke-opacity="0.24"/><path d="M380 56l374 374" stroke-opacity="0.14"/><path d="M390 56l374 374" stroke-opacity="0.30"/><path d="M391 56l374 374" stroke-opacity="0.22"/><path d="M395 56l374 374" stroke-opacity="0.17"/><path d="M401 56l374 374" stroke-opacity="0.40"/><path d="M402 56l374 374" stroke-opacity="0.48"/><path d="M406 56l374 374" stroke-opacity="0.48"/><path d="M412 56l374 374" stroke-opacity="0.20"/><path d="M413 56l374 374" stroke-opacity="0.35"/><path d="M417 56l374 374" stroke-opacity="0.42"/><path d="M418 56l374 374" stroke-opacity="0.34"/><path d="M424 56l374 374" stroke-opacity="0.16"/><path d="M425 56l374 374" stroke-opacity="0.14"/><path d="M429 56l374 374" stroke-opacity="0.24"/><path d="M435 56l374 374" stroke-opacity="0.36"/><path d="M436 56l374 374" stroke-opacity="0.43"/><path d="M440 56l374 374" stroke-opacity="0.32"/><path d="M446 56l374 374" stroke-opacity="0.26"/><path d="M447 56l374 374" stroke-opacity="0.56"/><path d="M453 56l374 374" stroke-opacity="0.33"/><path d="M454 56l374 374" stroke-opacity="0.22"/><path d="M457 56l374 374" stroke-opacity="0.40"/><path d="M458 56l374 374" stroke-opacity="0.49"/><path d="M462 56l374 374" stroke-opacity="0.34"/><path d="M468 56l374 374" stroke-opacity="0.28"/><path d="M469 56l374 374" stroke-opacity="0.39"/><path d="M473 56l374 374" stroke-opacity="0.47"/><path d="M474 56l374 374" stroke-opacity="0.20"/><path d="M480 56l374 374" stroke-opacity="0.16"/><path d="M484 56l374 374" stroke-opacity="0.29"/><path d="M494 56l374 374" stroke-opacity="0.18"/><path d="M495 56l374 374" stroke-opacity="0.37"/><path d="M499 56l374 374" stroke-opacity="0.20"/><path d="M506 56l374 374" stroke-opacity="0.17"/><path d="M510 56l374 374" stroke-opacity="0.15"/><path d="M511 56l374 374" stroke-opacity="0.18"/><path d="M517 56l374 374" stroke-opacity="0.23"/></g><g stroke="#443983" stroke-width="0.75" fill="none"><path d="M149 56l374 374" stroke-opacity="0.31"/><path d="M153 56l374 374" stroke-opacity="0.31"/><path d="M154 56l374 374" stroke-opacity="0.37"/><path d="M160 56l374 374" stroke-opacity="0.25"/><path d="M164 56l374 374" stroke-opacity="0.40"/><path d="M165 56l374 374" stroke-opacity="0.15"/><path d="M168 56l374 374" stroke-opacity="0.15"/><path d="M175 56l374 374" stroke-opacity="0.46"/><path d="M181 56l374 374" stroke-opacity="0.34"/><path d="M182 56l374 374" stroke-opacity="0.28"/><path d="M188 56l374 374" stroke-opacity="0.16"/><path d="M192 56l374 374" stroke-opacity="0.27"/><path d="M193 56l374 374" stroke-opacity="0.32"/><path d="M215 56l374 374" stroke-opacity="0.19"/><path d="M220 56l374 374" stroke-opacity="0.19"/><path d="M226 56l374 374" stroke-opacity="0.22"/><path d="M227 56l374 374" stroke-opacity="0.45"/><path d="M234 56l374 374" stroke-opacity="0.26"/><path d="M238 56l374 374" stroke-opacity="0.30"/><path d="M239 56l374 374" stroke-opacity="0.25"/><path d="M245 56l374 374" stroke-opacity="0.37"/><path d="M246 56l374 374" stroke-opacity="0.33"/><path d="M256 56l374 374" stroke-opacity="0.17"/><path d="M257 56l374 374" stroke-opacity="0.38"/><path d="M268 56l374 374" stroke-opacity="0.23"/><path d="M274 56l374 374" stroke-opacity="0.30"/><path d="M278 56l374 374" stroke-opacity="0.28"/><path d="M284 56l374 374" stroke-opacity="0.28"/><path d="M285 56l374 374" stroke-opacity="0.29"/><path d="M288 56l374 374" stroke-opacity="0.20"/><path d="M289 56l374 374" stroke-opacity="0.31"/><path d="M295 56l374 374" stroke-opacity="0.16"/><path d="M296 56l374 374" stroke-opacity="0.16"/><path d="M300 56l374 374" stroke-opacity="0.37"/><path d="M306 56l374 374" stroke-opacity="0.15"/><path d="M307 56l374 374" stroke-opacity="0.36"/><path d="M311 56l374 374" stroke-opacity="0.16"/><path d="M318 56l374 374" stroke-opacity="0.18"/><path d="M329 56l374 374" stroke-opacity="0.21"/><path d="M330 56l374 374" stroke-opacity="0.26"/><path d="M341 56l374 374" stroke-opacity="0.19"/><path d="M352 56l374 374" stroke-opacity="0.24"/><path d="M353 56l374 374" stroke-opacity="0.30"/><path d="M364 56l374 374" stroke-opacity="0.16"/><path d="M370 56l374 374" stroke-opacity="0.18"/><path d="M381 56l374 374" stroke-opacity="0.17"/><path d="M382 56l374 374" stroke-opacity="0.15"/><path d="M388 56l374 374" stroke-opacity="0.21"/><path d="M392 56l374 374" stroke-opacity="0.15"/><path d="M393 56l374 374" stroke-opacity="0.19"/><path d="M399 56l374 374" stroke-opacity="0.20"/><path d="M400 56l374 374" stroke-opacity="0.16"/><path d="M403 56l374 374" stroke-opacity="0.20"/><path d="M404 56l374 374" stroke-opacity="0.43"/><path d="M408 56l374 374" stroke-opacity="0.20"/><path d="M415 56l374 374" stroke-opacity="0.44"/><path d="M416 56l374 374" stroke-opacity="0.16"/><path d="M427 56l374 374" stroke-opacity="0.18"/><path d="M433 56l374 374" stroke-opacity="0.16"/><path d="M437 56l374 374" stroke-opacity="0.21"/><path d="M438 56l374 374" stroke-opacity="0.41"/><path d="M444 56l374 374" stroke-opacity="0.25"/><path d="M445 56l374 374" stroke-opacity="0.34"/><path d="M449 56l374 374" stroke-opacity="0.25"/><path d="M455 56l374 374" stroke-opacity="0.34"/><path d="M456 56l374 374" stroke-opacity="0.30"/><path d="M459 56l374 374" stroke-opacity="0.20"/><path d="M460 56l374 374" stroke-opacity="0.36"/><path d="M471 56l374 374" stroke-opacity="0.42"/><path d="M475 56l374 374" stroke-opacity="0.20"/><path d="M482 56l374 374" stroke-opacity="0.22"/><path d="M492 56l374 374" stroke-opacity="0.16"/><path d="M493 56l374 374" stroke-opacity="0.18"/><path d="M497 56l374 374" stroke-opacity="0.28"/><path d="M508 56l374 374" stroke-opacity="0.15"/></g></g>
<path d="M149.6 58l365 365" stroke="#26828e" stroke-width="1.3" stroke-opacity=".55" fill="none"/>
</g>
<g clip-path="url(#ax)" fill="none" stroke="#000" stroke-width="3" stroke-dasharray="10.28 4.44">
<path d="M190.5 95.5H520"/>
<path d="M190.5 95.5V440"/>
<path d="M200.5 105.5H520"/>
<path d="M200.5 105.5V440"/>
</g>
<path d="M192.5 93.5L198.5 99.5A2.85 2.85 0 0 1 194.5 103.5L188.5 97.5Z" fill="#000" clip-path="url(#bc)"/>
<g fill="none" stroke="#000" stroke-width="1.111">
<rect x="143.5" y="58.5" width="370" height="369"/>
<path d="M143.5 428v4.5M191.5 428v4.5M238.5 428v4.5M286.5 428v4.5M334.5 428v4.5M381.5 428v4.5M429.5 428v4.5M477.5 428v4.5M514 58.5h4.5M514 105.5h4.5M514 153.5h4.5M514 200.5h4.5M514 248.5h4.5M514 296.5h4.5M514 343.5h4.5M514 391.5h4.5"/>
</g>
<g font-size="13.889px"><text x="144.44" y="447.6" text-anchor="middle">0</text><text x="190.56" y="447.6" text-anchor="middle">100</text><text x="238.22" y="447.6" text-anchor="middle">200</text><text x="285.62" y="447.6" text-anchor="middle">300</text><text x="333.56" y="447.6" text-anchor="middle">400</text><text x="380.53" y="447.6" text-anchor="middle">500</text><text x="429.33" y="447.6" text-anchor="middle">600</text><text x="476.42" y="447.6" text-anchor="middle">700</text><text x="523.03" y="62.78">0</text><text x="522.37" y="110.75">100</text><text x="523.02" y="157.75">200</text><text x="522.40" y="205.75">300</text><text x="522.30" y="253.73">400</text><text x="522.32" y="300.79">500</text><text x="523.09" y="348.80">600</text><text x="522.21" y="396.81">700</text>
<text x="327.4" y="467" text-anchor="middle">frame no</text>
<text transform="translate(563.5 243.4) rotate(-90)" text-anchor="middle">frame no</text>
</g>
<text transform="translate(328.2 49) scale(1 1.1)" text-anchor="middle" font-size="16.667px">Self-similarity matrix</text>
</svg>
</body></html>
